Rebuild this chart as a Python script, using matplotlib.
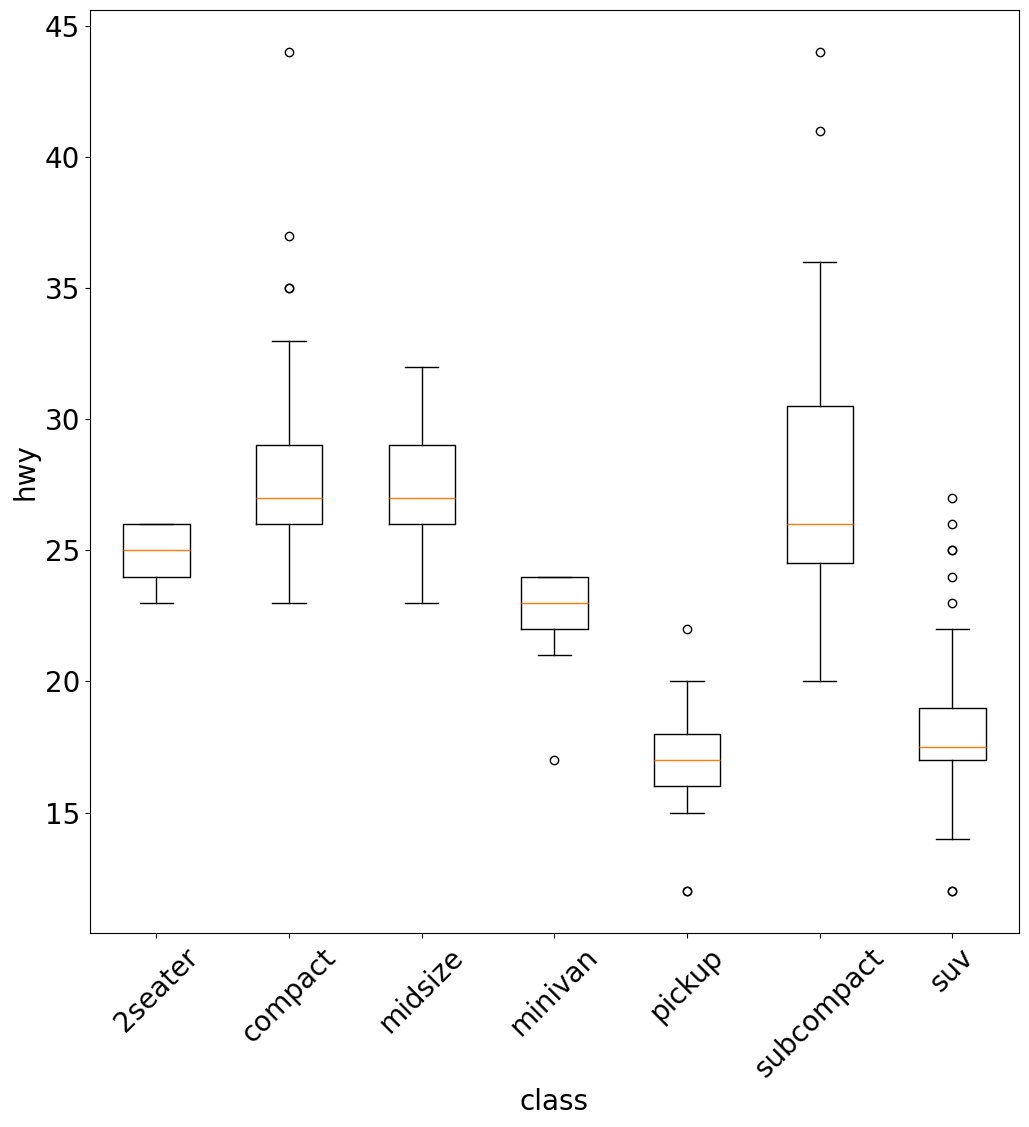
import matplotlib
matplotlib.use("Agg")
import matplotlib.pyplot as plt

# hwy by class
classes = ['2seater', 'compact', 'midsize', 'minivan', 'pickup', 'subcompact', 'suv']
whis_lo = [23, 23, 23, 21, 15, 20, 14]
q1 = [24, 26, 26, 22, 16, 24.5, 17]
med = [25, 27, 27, 23, 17, 26, 17.5]
q3 = [26, 29, 29, 24, 18, 30.5, 19]
whis_hi = [26, 33, 32, 24, 20, 36, 22]
fliers = [
    [],
    [35, 35, 37, 44],
    [],
    [17],
    [12, 12, 22],
    [41, 44],
    [12, 12, 23, 24, 25, 25, 26, 27],
]

stats = []
for i, name in enumerate(classes):
    stats.append({
        'label': name,
        'whislo': whis_lo[i],
        'q1': q1[i],
        'med': med[i],
        'q3': q3[i],
        'whishi': whis_hi[i],
        'fliers': fliers[i],
    })

fig, ax = plt.subplots(figsize=(10.29, 11.27), dpi=100)
ax.bxp(stats)
ax.set_xlabel('class', fontsize=20)
ax.set_ylabel('hwy', fontsize=20)
ax.tick_params(axis='both', labelsize=20)
plt.setp(ax.get_xticklabels(), rotation=45)
plt.subplots_adjust(left=0.0875, right=0.99, top=0.991, bottom=0.172)
fig.savefig('out.png', dpi=100)
